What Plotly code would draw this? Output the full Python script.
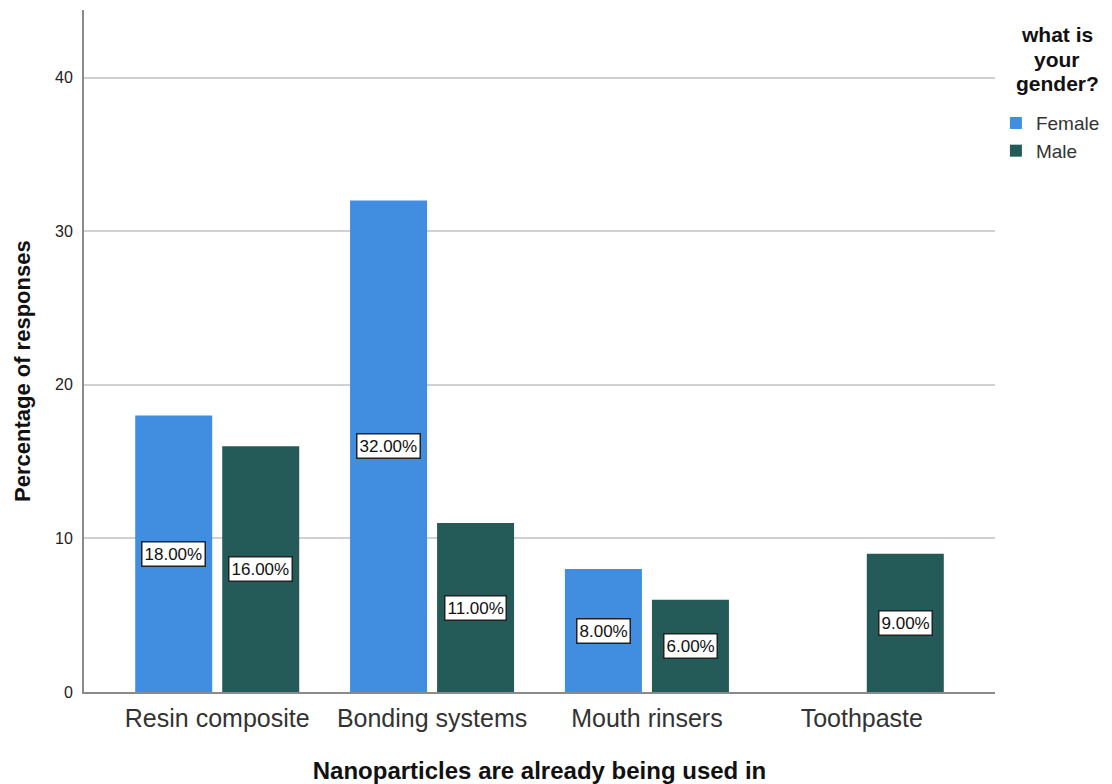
import plotly.graph_objects as go

# Survey responses by gender
categories = ["Resin composite", "Bonding systems", "Mouth rinsers", "Toothpaste"]
female_pct = [18, 32, 8, 0]
male_pct = [16, 11, 6, 9]
y_ticks = [0, 10, 20, 30, 40]
legend_heading = ["what is", "your", "gender?"]

FEMALE_COLOR = "#418ee0"
MALE_COLOR = "#245a57"
FONT = "Liberation Sans, Arial, sans-serif"

# Bar geometry (category axis)
BARGAP = 0.19
BARGROUPGAP = 0.115
PLOT_W = 1112 - 84 - 117
PLOT_H = 784 - 10 - 92
X_RANGE = [-0.62, 3.62]
cat_px = PLOT_W / (X_RANGE[1] - X_RANGE[0])
slot_px = (1 - BARGAP) * cat_px / 2

fig = go.Figure()
fig.add_trace(go.Bar(name="Female", x=categories, y=female_pct,
                     marker=dict(color=FEMALE_COLOR, line=dict(width=0))))
fig.add_trace(go.Bar(name="Male", x=categories, y=male_pct,
                     marker=dict(color=MALE_COLOR, line=dict(width=0))))

# Value labels in boxes at mid-height of each bar
for series, shift in ((female_pct, -slot_px / 2), (male_pct, slot_px / 2)):
    for cat, v in zip(categories, series):
        if not v:
            continue
        fig.add_annotation(x=cat, y=v / 2, xref="x", yref="y", xshift=shift,
                           text=f"{v:.2f}%", showarrow=False,
                           font=dict(family=FONT, size=17, color="#111"),
                           bgcolor="white", bordercolor="#222", borderwidth=1.5, borderpad=2)

# Legend heading, one line per annotation for tight line spacing
for i, line in enumerate(legend_heading):
    fig.add_annotation(xref="paper", yref="paper",
                       x=(1057 - 84) / PLOT_W, y=(692 - 35 - 24 * i) / PLOT_H,
                       xanchor="center", yanchor="middle",
                       text=f"<b>{line}</b>", showarrow=False, borderpad=0,
                       font=dict(family=FONT, size=21, color="#111"))

# Y-axis title, sitting slightly below the plot's vertical centre
fig.add_annotation(xref="paper", yref="paper", x=(22 - 84) / PLOT_W, y=(692 - 371) / PLOT_H,
                   xanchor="center", yanchor="middle", textangle=-90, showarrow=False,
                   text="<b>Percentage of responses</b>",
                   font=dict(family=FONT, size=22, color="#111"))

fig.update_layout(
    width=1112, height=784,
    margin=dict(l=84, r=117, t=10, b=92, autoexpand=False),
    paper_bgcolor="white", plot_bgcolor="white",
    barmode="group", bargap=BARGAP, bargroupgap=BARGROUPGAP,
    showlegend=True,
    legend=dict(x=1.001, y=0.862, xanchor="left", yanchor="top",
                font=dict(family=FONT, size=19, color="#333"),
                itemwidth=30, tracegroupgap=0, bgcolor="rgba(0,0,0,0)"),
    xaxis=dict(range=X_RANGE, showgrid=False, showline=True, linecolor="#8a8a8a", linewidth=2,
               ticks="", ticklabelstandoff=3, automargin=False,
               tickfont=dict(family=FONT, size=25, color="#333"),
               title=dict(text="<b>Nanoparticles are already being used in</b>",
                          font=dict(family=FONT, size=24, color="#111"),
                          standoff=32)),
    yaxis=dict(range=[0, 44.4], tickvals=y_ticks, showgrid=True, gridcolor="#d0d0d0", gridwidth=2,
               showline=True, linecolor="#8a8a8a", linewidth=2, zeroline=False,
               ticks="", ticklabelstandoff=6, automargin=False,
               tickfont=dict(family=FONT, size=16, color="#222")),
)

fig.write_html("out.html")
